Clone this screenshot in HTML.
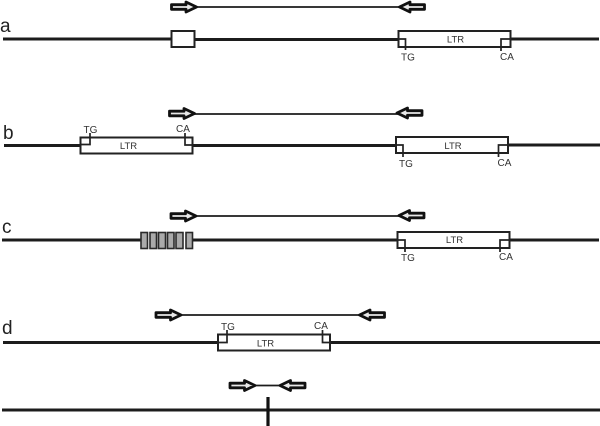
<!DOCTYPE html>
<html>
<head>
<meta charset="utf-8">
<style>
html,body{margin:0;padding:0;background:#fff;}
svg{display:block;}
text{font-family:"Liberation Sans",sans-serif;}
.l{fill:#222;font-size:19px;}
.t{fill:#333;font-size:10px;text-anchor:middle;}
.r{fill:#333;font-size:9.500px;text-anchor:middle;}
.m{stroke:#1c1c1c;stroke-width:3;fill:none;}
.thin{stroke:#1c1c1c;stroke-width:1.800;fill:none;}
.b{stroke:#222;stroke-width:2;fill:#fff;}
.k{stroke:#222;stroke-width:1.700;fill:none;}
.g{stroke:#2a2a2a;stroke-width:1.600;fill:#aaa;}
.a{stroke:#111;stroke-width:2.800;fill:#e8e8e8;stroke-linejoin:round;}
</style>
</head>
<body>
<svg width="600" height="426" viewBox="0 0 600 426" xmlns="http://www.w3.org/2000/svg">
<!-- a -->
<text class="l" x="0" y="32">a</text>
<path class="thin" d="M190 7H406"/>
<polygon class="a" transform="translate(170,7)" points="1.500,-2.300 16,-2.300 16,-5 26.500,0 16,5 16,2.300 1.500,2.300"/>
<polygon class="a" transform="translate(426,7) scale(-1,1)" points="1.500,-2.300 16,-2.300 16,-5 26.500,0 16,5 16,2.300 1.500,2.300"/>
<path class="m" d="M3 39H172M194 39.500H399M510 39H599"/>
<rect class="b" x="171.500" y="31" width="23" height="16"/>
<rect class="b" x="398.500" y="31" width="112" height="16"/>
<path class="k" d="M399 39H405.500V50M510 39H501V51"/>
<text class="t" x="408" y="60.500">TG</text>
<text class="t" x="507" y="60">CA</text>
<text class="r" x="455.500" y="42.500">LTR</text>
<!-- b -->
<text class="l" x="3" y="139">b</text>
<path class="thin" d="M188 114H404"/>
<polygon class="a" transform="translate(168,113.500)" points="1.500,-2.300 16,-2.300 16,-5 26.500,0 16,5 16,2.300 1.500,2.300"/>
<polygon class="a" transform="translate(423.500,113) scale(-1,1)" points="1.500,-2.300 16,-2.300 16,-5 26.500,0 16,5 16,2.300 1.500,2.300"/>
<path class="m" d="M4 145.500H81M192 145.500H397M508 145H600"/>
<rect class="b" x="80.500" y="137.500" width="112" height="16"/>
<rect class="b" x="396" y="137" width="112" height="16"/>
<path class="k" d="M81 144.500H90V133M192 145H185V133M396 145H403V157M508 145H498.500V157"/>
<text class="t" x="90.500" y="133">TG</text>
<text class="t" x="183" y="132">CA</text>
<text class="r" x="128.500" y="149">LTR</text>
<text class="t" x="406" y="167">TG</text>
<text class="t" x="504.500" y="166">CA</text>
<text class="r" x="453" y="149">LTR</text>
<!-- c -->
<text class="l" x="2" y="233">c</text>
<path class="thin" d="M189 216H406"/>
<polygon class="a" transform="translate(169.500,216)" points="1.500,-2.300 16,-2.300 16,-5 26.500,0 16,5 16,2.300 1.500,2.300"/>
<polygon class="a" transform="translate(425.500,215.500) scale(-1,1)" points="1.500,-2.300 16,-2.300 16,-5 26.500,0 16,5 16,2.300 1.500,2.300"/>
<path class="m" d="M2 240H142M192 240H398M509 240H599"/>
<rect class="g" x="141" y="232.500" width="6.500" height="16"/>
<rect class="g" x="150" y="232.500" width="6.500" height="16"/>
<rect class="g" x="158.500" y="232.500" width="7" height="16"/>
<rect class="g" x="167.500" y="232.500" width="6.500" height="16"/>
<rect class="g" x="176" y="232.500" width="7" height="16"/>
<rect class="g" x="186" y="232.500" width="6.500" height="16"/>
<rect class="b" x="397.500" y="232" width="112" height="16"/>
<path class="k" d="M398 240H405V252M509 240H500V252"/>
<text class="t" x="408" y="261">TG</text>
<text class="t" x="506" y="260">CA</text>
<text class="r" x="454.500" y="243">LTR</text>
<!-- d -->
<text class="l" x="2" y="334">d</text>
<path class="thin" d="M175 315H366"/>
<polygon class="a" transform="translate(154.500,315)" points="1.500,-2.300 16,-2.300 16,-5 26.500,0 16,5 16,2.300 1.500,2.300"/>
<polygon class="a" transform="translate(386,315) scale(-1,1)" points="1.500,-2.300 16,-2.300 16,-5 26.500,0 16,5 16,2.300 1.500,2.300"/>
<path class="m" d="M3 342.500H219M330 342.500H600"/>
<rect class="b" x="218" y="334.500" width="112" height="16"/>
<path class="k" d="M218 342.500H227V330M330 342.500H322.500V330"/>
<text class="t" x="228" y="330">TG</text>
<text class="t" x="321" y="329">CA</text>
<text class="r" x="265.500" y="346.500">LTR</text>
<!-- e -->
<path class="thin" d="M250 385.500H285"/>
<polygon class="a" transform="translate(228.500,385.500)" points="1.500,-2.300 16,-2.300 16,-5 26.500,0 16,5 16,2.300 1.500,2.300"/>
<polygon class="a" transform="translate(306.500,385.500) scale(-1,1)" points="1.500,-2.300 16,-2.300 16,-5 26.500,0 16,5 16,2.300 1.500,2.300"/>
<path class="m" d="M2 410H600"/>
<path d="M268 397V426" stroke="#111" stroke-width="3.200" fill="none"/>
</svg>
</body>
</html>
